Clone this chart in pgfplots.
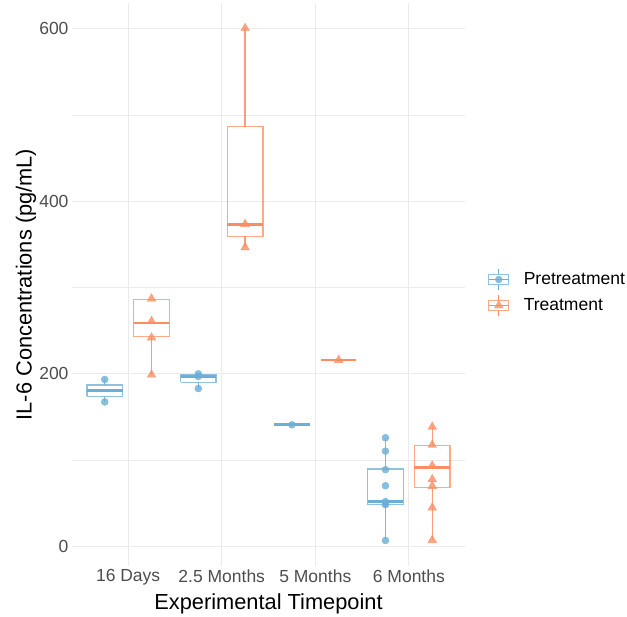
\documentclass[border=0pt]{standalone}
\usepackage{pgfplots}
\pgfplotsset{compat=1.18}
\usepackage{fontspec}
\setmainfont{Liberation Sans}
\definecolor{cblue}{RGB}{107,174,214}
\definecolor{corange}{RGB}{252,141,98}
\definecolor{tickgray}{RGB}{77,77,77}
\definecolor{gridgray}{RGB}{235,235,235}
\begin{document}
\begin{tikzpicture}
\path (0,0) rectangle (627bp,613bp);
\begin{axis}[
  at={(72bp,47bp)}, anchor=south west,
  scale only axis, width=393bp, height=563bp,
  xmin=0.4, xmax=4.6, ymin=-22.6, ymax=629.7,
  axis line style={draw=none},
  xtick style={draw=none}, ytick style={draw=none}, minor tick style={draw=none},
  xtick={1,2,3,4}, xticklabels={16 Days, 2.5 Months, 5 Months, 6 Months},
  ytick={0,200,400,600}, minor ytick={100,300,500},
  xmajorgrids=true, ymajorgrids=true, yminorgrids=true,
  major grid style={gridgray, line width=0.9bp},
  minor grid style={gridgray, line width=0.6bp},
  /pgf/number format/assume math mode=true,
  tick label style={font=\fontsize{17.5bp}{20bp}\selectfont, text=tickgray},
  xlabel={Experimental Timepoint},
  ylabel={IL-6 Concentrations (pg/mL)},
  label style={font=\fontsize{21.8bp}{26bp}\selectfont},
  xlabel style={at={(axis description cs:0.5,-0.0764)}, anchor=base},
  ylabel style={at={(axis description cs:-0.1028,0.5)}, anchor=base},
  legend style={at={(axis description cs:1,0.5)}, anchor=west, xshift=23bp, yshift=-8bp,
    draw=none, fill=none, inner sep=0pt,
    font=\fontsize{17.5bp}{21bp}\selectfont,
    row sep=4bp},
  legend cell align=left,
  unbounded coords=jump,
]
% ---- Pretreatment boxes (Q1..Q3 rectangles)
\addplot[forget plot, cblue, draw opacity=0.75, line width=1.4bp] coordinates {
 (0.56,174) (0.94,174) (0.94,187) (0.56,187) (0.56,174) (0.56,nan)
 (1.56,190.3) (1.94,190.3) (1.94,199.3) (1.56,199.3) (1.56,190.3) (1.56,nan)
 (3.56,48.4) (3.94,48.4) (3.94,89.7) (3.56,89.7) (3.56,48.4)
};
% whiskers
\addplot[forget plot, cblue, draw opacity=0.85, line width=1.4bp] coordinates {
 (0.75,167.5) (0.75,174) (0.75,nan) (0.75,187) (0.75,193.5) (0.75,nan)
 (1.75,183) (1.75,190.3) (1.75,nan) (1.75,199.3) (1.75,200) (1.75,nan)
 (3.75,7) (3.75,48.4) (3.75,nan) (3.75,89.7) (3.75,126)
};
% medians
\addplot[forget plot, cblue, line width=2.8bp] coordinates {
 (0.56,180.5) (0.94,180.5) (0.94,nan)
 (1.56,197) (1.94,197) (1.94,nan)
 (2.56,141) (2.94,141) (2.94,nan)
 (3.56,52.2) (3.94,52.2)
};
% ---- Treatment boxes
\addplot[forget plot, corange, draw opacity=0.75, line width=1.4bp] coordinates {
 (1.06,243) (1.44,243) (1.44,286.3) (1.06,286.3) (1.06,243) (1.06,nan)
 (2.06,359.5) (2.44,359.5) (2.44,486.6) (2.06,486.6) (2.06,359.5) (2.06,nan)
 (4.06,68.1) (4.44,68.1) (4.44,117.2) (4.06,117.2) (4.06,68.1)
};
\addplot[forget plot, corange, draw opacity=0.85, line width=1.4bp] coordinates {
 (1.25,199) (1.25,243) (1.25,nan)
 (2.25,346.5) (2.25,359.5) (2.25,nan) (2.25,486.6) (2.25,600.5) (2.25,nan)
 (4.25,7.4) (4.25,68.1) (4.25,nan) (4.25,117.2) (4.25,138.5)
};
\addplot[forget plot, corange, line width=2.8bp] coordinates {
 (1.06,259) (1.44,259) (1.44,nan)
 (2.06,373.3) (2.44,373.3) (2.44,nan)
 (3.06,216) (3.44,216) (3.44,nan)
 (4.06,91.3) (4.44,91.3)
};
% ---- points
\addplot[forget plot, only marks, mark=*, mark size=3.5bp, cblue, opacity=0.8] coordinates {
 (0.75,167.5) (0.75,193.5)
 (1.75,183) (1.75,200) (1.75,197)
 (2.75,141)
 (3.75,126) (3.75,110.5) (3.75,89) (3.75,70.4) (3.75,52) (3.75,50) (3.75,48.4) (3.75,7)
};
\addplot[forget plot, only marks, mark=triangle*, mark size=5bp, corange, opacity=0.8] coordinates {
 (1.25,199) (1.25,242) (1.25,261) (1.25,287)
 (2.25,346.5) (2.25,373.5) (2.25,600.5)
 (3.25,216)
 (4.25,138.5) (4.25,117.6) (4.25,93.6) (4.25,77.8) (4.25,70) (4.25,45) (4.25,7.4)
};
% ---- legend
\addlegendimage{legend image code/.code={
  \path[draw=none, fill=none] (0bp,-11bp) rectangle (33bp,11bp);
  \draw[cblue, draw opacity=0.75, line width=1.2bp] (0bp,-5bp) rectangle (20bp,5bp);
  \draw[cblue, line width=1.2bp] (10bp,5bp)--(10bp,10bp) (10bp,-5bp)--(10bp,-10bp) (0bp,0bp)--(20bp,0bp);
  \fill[cblue, opacity=0.8] (10bp,0bp) circle (3.5bp);
}}
\addlegendentry{Pretreatment}
\addlegendimage{legend image code/.code={
  \path[draw=none, fill=none] (0bp,-11bp) rectangle (33bp,11bp);
  \draw[corange, draw opacity=0.75, line width=1.2bp] (0bp,-5bp) rectangle (20bp,5bp);
  \draw[corange, line width=1.2bp] (10bp,5bp)--(10bp,10bp) (10bp,-5bp)--(10bp,-10bp) (0bp,0bp)--(20bp,0bp);
  \fill[corange, opacity=0.8] (10bp,5bp)--(14.3bp,-2.5bp)--(5.7bp,-2.5bp)--cycle;
}}
\addlegendentry{Treatment}
\end{axis}
\end{tikzpicture}
\end{document}
